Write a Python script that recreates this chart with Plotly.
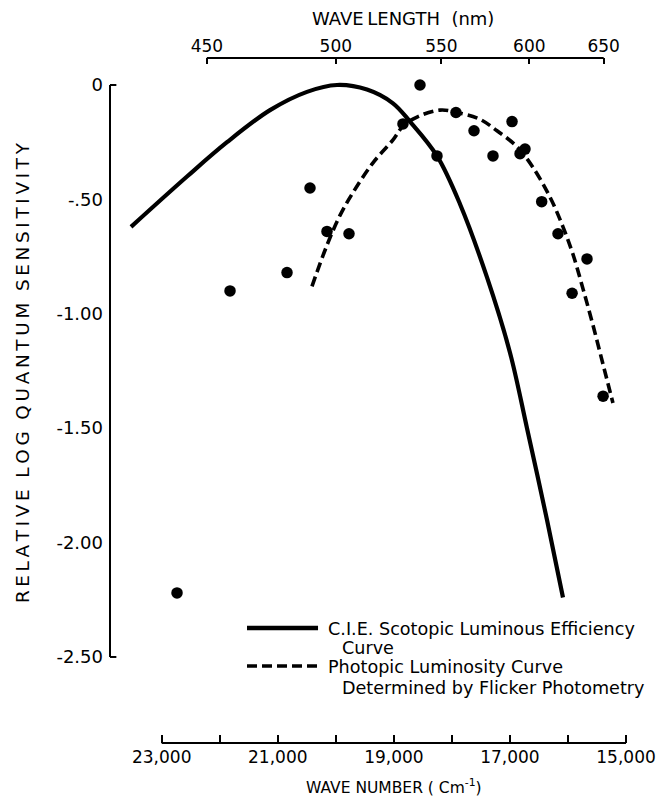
import plotly.graph_objects as go

# ---- data ----
# flicker-photometry data points: wave number (cm^-1), relative log quantum sensitivity
pts_wn = [22736, 21823, 20841, 20445, 20152, 19773, 18843, 18550, 18257, 17930,
          17619, 17292, 16964, 16826, 16740, 16453, 16172, 15929, 15672, 15395]
pts_val = [-2.22, -0.90, -0.82, -0.45, -0.64, -0.65, -0.17, 0.00, -0.31, -0.12,
           -0.20, -0.31, -0.16, -0.30, -0.28, -0.51, -0.65, -0.91, -0.76, -1.36]

# C.I.E. scotopic luminous efficiency curve
cie_wn = [23529, 22564, 21875, 21134, 20497, 19980, 19463, 19015, 18722,
          18257, 17861, 17396, 16999, 16706, 16362, 16086]
cie_val = [-0.62, -0.40, -0.25, -0.11, -0.03, 0.00, -0.02, -0.08, -0.16,
           -0.31, -0.52, -0.84, -1.17, -1.50, -1.90, -2.24]

# photopic luminosity curve (flicker photometry)
phot_wn = [20411, 20152, 19928, 19704, 19360, 19015, 18843, 18601, 18205, 17912,
           17516, 17223, 16878, 16603, 16310, 16086, 15914, 15742, 15569, 15397, 15225]
phot_val = [-0.88, -0.70, -0.57, -0.47, -0.34, -0.24, -0.18, -0.14, -0.11, -0.12,
            -0.15, -0.20, -0.27, -0.36, -0.49, -0.62, -0.74, -0.89, -1.05, -1.22, -1.39]

# axes
wn_ticks = [23000, 22000, 21000, 20000, 19000, 18000, 17000, 16000, 15000]
wn_labels = ["23,000", "", "21,000", "", "19,000", "", "17,000", "", "15,000"]
wl_ticks_nm = [450, 500, 550, 600, 650]
y_ticks = [0, -0.5, -1.0, -1.5, -2.0, -2.5]
y_labels = ["0", "-.50", "-1.00", "-1.50", "-2.00", "-2.50"]

FONT = "DejaVu Sans"
INK = "black"
TS = "\u2009"  # thin space for letter spacing


def spaced(s):
    return TS.join(list(s))


x_range = [23891, 14759]
y_range = [-2.876, 0.118]

fig = go.Figure()
fig.add_trace(go.Scatter(x=cie_wn, y=cie_val, mode="lines", line=dict(color=INK, width=4.2, shape="spline"),
                         showlegend=False, cliponaxis=False))
fig.add_trace(go.Scatter(x=phot_wn, y=phot_val, mode="lines",
                         line=dict(color=INK, width=3.6, dash="10px,5px", shape="spline"), showlegend=False))
fig.add_trace(go.Scatter(x=pts_wn, y=pts_val, mode="markers", marker=dict(color=INK, size=11.5),
                         showlegend=False, cliponaxis=False, xaxis="x2", yaxis="y"))

wl_pos = [1e7 / w for w in wl_ticks_nm]

fig.update_layout(
    template="none",
    width=659, height=805,
    margin=dict(l=110, r=19, t=58, b=62, autoexpand=False),
    paper_bgcolor="white", plot_bgcolor="white",
    font=dict(family=FONT, color=INK, size=16),
    xaxis=dict(range=x_range, showgrid=False, zeroline=False, showline=False, automargin=False,
               tickvals=wn_ticks, ticktext=wn_labels, ticks="inside", ticklen=8, tickwidth=1.5,
               tickcolor=INK, tickfont=dict(size=17), ticklabelstandoff=2),
    xaxis2=dict(range=x_range, overlaying="x", side="top", anchor="y", showgrid=False, zeroline=False,
                showline=False, automargin=False, tickvals=wl_pos, ticktext=[str(w) for w in wl_ticks_nm],
                ticks="inside", ticklen=6, tickwidth=1.5, tickcolor=INK, tickfont=dict(size=17),
                ticklabelstandoff=2),
    yaxis=dict(range=y_range, showgrid=False, zeroline=False, showline=False, automargin=False,
               tickvals=y_ticks, ticktext=y_labels, ticks="", tickfont=dict(size=18),
               ticklabelstandoff=6),
)

# axis lines spanning only the labelled ranges
fig.add_shape(type="line", xref="x", yref="paper", x0=wn_ticks[0], x1=wn_ticks[-1], y0=0, y1=0,
              line=dict(color=INK, width=2))
fig.add_shape(type="line", xref="x", yref="paper", x0=wl_pos[0], x1=wl_pos[-1], y0=1, y1=1,
              line=dict(color=INK, width=2))
fig.add_shape(type="line", xref="paper", yref="y", x0=0, x1=0, y0=y_ticks[0], y1=y_ticks[-1],
              line=dict(color=INK, width=2))
for yv in (y_ticks[0], y_ticks[-1]):
    fig.add_shape(type="line", xref="paper", yref="y", x0=0, x1=0.012, y0=yv, y1=yv,
                  line=dict(color=INK, width=2))

# titles
fig.add_annotation(text="WAVE" + TS + "LENGTH  (nm)", xref="paper", yref="paper", x=0.553, y=1.058,
                   showarrow=False, font=dict(size=18), xanchor="center", yanchor="middle")
fig.add_annotation(text="WAVE NUMBER ( Cm<sup>-1</sup>)", xref="paper", yref="paper", x=0.535, y=-0.0642,
                   showarrow=False, font=dict(size=15.5), xanchor="center", yanchor="middle")
ytitle = "  ".join(spaced(w) for w in ["RELATIVE", "LOG", "QUANTUM", "SENSITIVITY"])
fig.add_annotation(text=ytitle, xref="paper", yref="paper",
                   x=-0.166, y=0.540, textangle=-90, showarrow=False, font=dict(size=18.4),
                   xanchor="center", yanchor="middle")

# legend (drawn by hand to match the original key)
fig.add_shape(type="line", xref="paper", yref="paper", x0=0.2585, x1=0.3925, y0=0.1679, y1=0.1679,
              line=dict(color=INK, width=4.5))
fig.add_shape(type="line", xref="paper", yref="paper", x0=0.2585, x1=0.3925, y0=0.1124, y1=0.1124,
              line=dict(color=INK, width=3.6, dash="10px,5px"))
leg = [("C.I.E. Scotopic Luminous Efficiency", 0.4075, 0.1664),
       ("Curve", 0.434, 0.1387),
       ("Photopic Luminosity Curve", 0.4075, 0.111),
       ("Determined by Flicker Photometry", 0.434, 0.0803)]
for t, xx, yy in leg:
    fig.add_annotation(text=t, xref="paper", yref="paper", x=xx, y=yy, showarrow=False,
                       xanchor="left", yanchor="middle", font=dict(size=17.6))

fig.write_html("out.html")
